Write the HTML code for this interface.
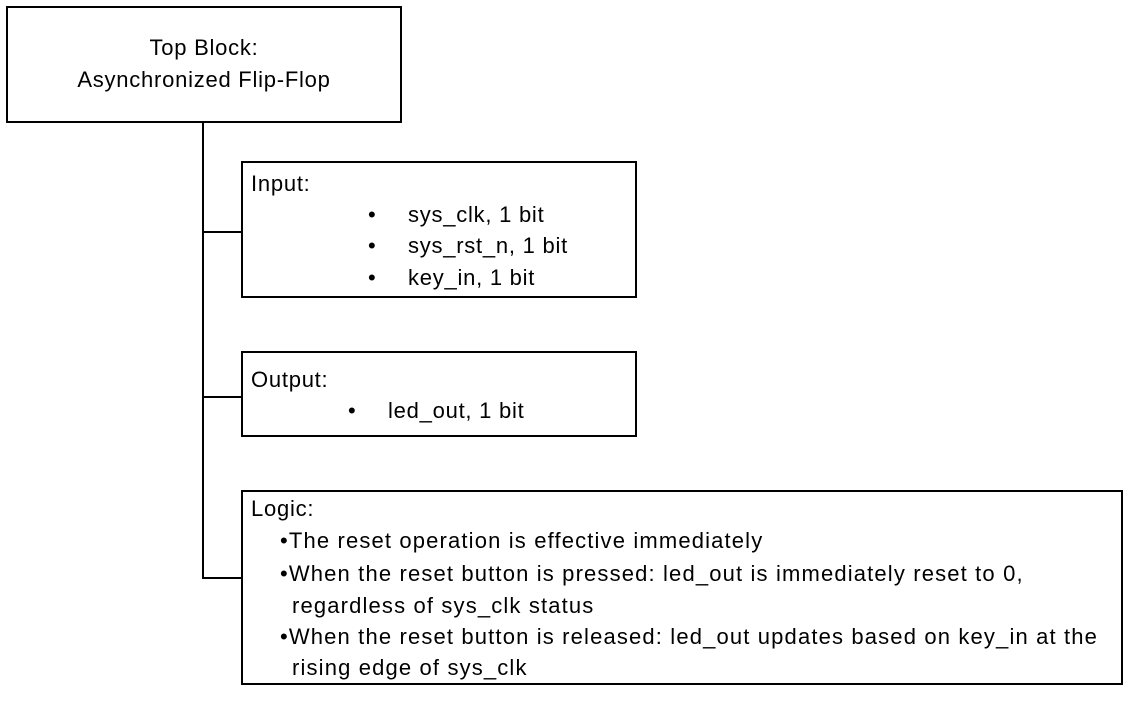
<!DOCTYPE html>
<html><head><meta charset="utf-8"><style>
body{margin:0;width:1138px;height:701px;background:#fff;position:relative;font-family:"Liberation Sans",sans-serif;font-size:22px;color:#000;overflow:hidden}
.b{position:absolute;border:2px solid #000;box-sizing:border-box}
.l{position:absolute;background:#000}
.t{position:absolute;white-space:nowrap;line-height:22px;letter-spacing:0.75px}
.g{letter-spacing:1.15px}
</style></head><body>
<div class="b" style="left:6px;top:6px;width:396px;height:117px"></div>
<div class="t" style="left:6px;width:396px;text-align:center;top:37px">Top Block:</div>
<div class="t" style="left:6px;width:396px;text-align:center;top:69px">Asynchronized Flip-Flop</div>
<div class="l" style="left:202px;top:122px;width:2px;height:457px"></div>
<div class="l" style="left:202px;top:231px;width:41px;height:2px"></div>
<div class="l" style="left:202px;top:396px;width:41px;height:2px"></div>
<div class="l" style="left:202px;top:577px;width:41px;height:2px"></div>

<div class="b" style="left:241px;top:161px;width:396px;height:137px"></div>
<div class="t" style="left:251px;top:173px">Input:</div>
<div class="t" style="left:368px;top:204px">•</div><div class="t" style="left:408px;top:204px">sys_clk, 1 bit</div>
<div class="t" style="left:368px;top:235px">•</div><div class="t" style="left:408px;top:235px">sys_rst_n, 1 bit</div>
<div class="t" style="left:368px;top:267px">•</div><div class="t" style="left:408px;top:267px">key_in, 1 bit</div>

<div class="b" style="left:241px;top:351px;width:396px;height:86px"></div>
<div class="t" style="left:251px;top:369px">Output:</div>
<div class="t" style="left:348px;top:400px">•</div><div class="t" style="left:388px;top:400px">led_out, 1 bit</div>

<div class="b" style="left:241px;top:490px;width:882px;height:195px"></div>
<div class="t" style="left:251px;top:498px">Logic:</div>
<div class="t g" style="left:280px;top:530px">•The reset operation is effective immediately</div>
<div class="t g" style="left:280px;top:563px">•When the reset button is pressed: led_out is immediately reset to 0,</div>
<div class="t g" style="left:292px;top:595px">regardless of sys_clk status</div>
<div class="t g" style="left:280px;top:626px">•When the reset button is released: led_out updates based on key_in at the</div>
<div class="t g" style="left:292px;top:657px">rising edge of sys_clk</div>
</body></html>
